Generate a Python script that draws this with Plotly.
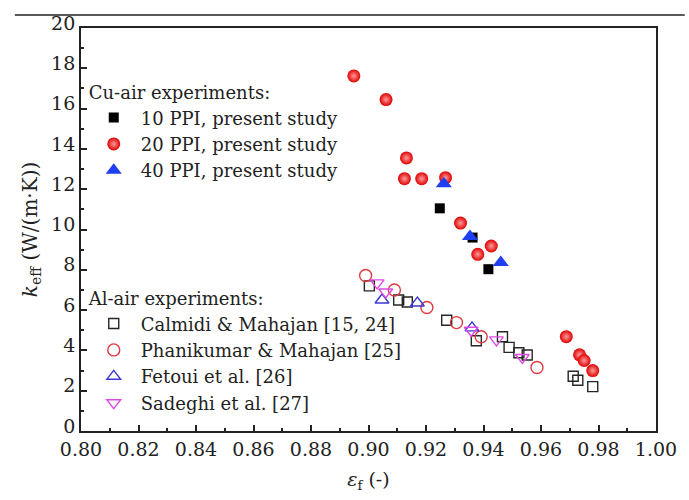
import plotly.graph_objects as go

# Cu-air measurements (present study)
cu10_eps = [0.9248, 0.9362, 0.9417]
cu10_k = [11.05, 9.60, 8.03]

cu20_eps = [0.8949, 0.9061, 0.9132, 0.9125, 0.9185, 0.9268, 0.9320, 0.9427,
            0.9380, 0.9688, 0.9734, 0.9750, 0.9780]
cu20_k = [17.62, 16.45, 13.55, 12.52, 12.52, 12.57, 10.32, 9.18,
          8.77, 4.68, 3.78, 3.50, 3.00]

cu40_eps = [0.9262, 0.9353, 0.9460]
cu40_k = [12.27, 9.65, 8.36]

# Al-air measurements from the literature
calmidi_eps = [0.9003, 0.9105, 0.9135, 0.9272, 0.9375, 0.9466, 0.9489, 0.9523,
               0.9552, 0.9712, 0.9728, 0.9780]
calmidi_k = [7.20, 6.50, 6.40, 5.50, 4.48, 4.68, 4.15, 3.88,
             3.77, 2.72, 2.52, 2.20]

phani_eps = [0.8990, 0.9090, 0.9203, 0.9306, 0.9392, 0.9586]
phani_k = [7.72, 7.00, 6.13, 5.38, 4.68, 3.15]

fetoui_eps = [0.9047, 0.9170, 0.9360]
fetoui_k = [6.50, 6.35, 5.12]

sadeghi_eps = [0.9030, 0.9060, 0.9357, 0.9445, 0.9535]
sadeghi_k = [7.35, 6.90, 5.00, 4.52, 3.65]

FONT = "DejaVu Serif, Liberation Serif, serif"
INK = "#222222"

fig = go.Figure()

# Al-air series (open symbols), second legend
al_series = [
    ("Calmidi & Mahajan [15, 24]", calmidi_eps, calmidi_k, "square-open", "#262626", 10),
    ("Phanikumar & Mahajan [25]", phani_eps, phani_k, "circle-open", "#e0393e", 12),
    ("Fetoui et al. [26]", fetoui_eps, fetoui_k, "triangle-up-open", "#3a3ad6", 12),
    ("Sadeghi et al. [27]", sadeghi_eps, sadeghi_k, "triangle-down-open", "#e048e6", 12),
]
for name, xs, ys, sym, col, size in al_series:
    fig.add_trace(go.Scatter(
        x=xs, y=ys, mode="markers", name=name, legend="legend2",
        marker=dict(symbol=sym, size=size, color=col, line=dict(width=1.4, color=col)),
    ))

# Cu-air series (filled symbols), first legend
fig.add_trace(go.Scatter(
    x=cu10_eps, y=cu10_k, mode="markers", name="10 PPI, present study", legend="legend",
    marker=dict(symbol="square", size=10, color="#000000"),
))
fig.add_trace(go.Scatter(
    x=cu20_eps, y=cu20_k, mode="markers", name="20 PPI, present study", legend="legend",
    marker=dict(symbol="circle", size=13, color="#e00000",
                gradient=dict(type="radial", color="#ff9a9a"),
                line=dict(width=0)),
))
fig.add_trace(go.Scatter(
    x=cu40_eps, y=cu40_k, mode="markers", name="40 PPI, present study", legend="legend",
    marker=dict(symbol="triangle-up", size=14, color="#1f3ff0", line=dict(width=0)),
))

axis_common = dict(
    showline=True, linecolor=INK, linewidth=1.8, mirror=True,
    ticks="inside", ticklen=6, tickwidth=1.5, tickcolor=INK,
    showgrid=False, zeroline=False,
    tickfont=dict(family=FONT, size=19, color=INK),
)

fig.update_xaxes(
    range=[0.80, 1.00], dtick=0.02, tick0=0.80, tickformat=".2f",
    minor=dict(ticks="inside", ticklen=3, tickwidth=1.5, tickcolor=INK, dtick=0.01),
    title=dict(text="<i>ε</i><sub>f</sub> (-)", font=dict(family=FONT, size=19, color=INK),
               standoff=14),
    **axis_common,
)
fig.update_yaxes(
    range=[0, 20], dtick=2, tick0=0,
    minor=dict(ticks="inside", ticklen=3, tickwidth=1.5, tickcolor=INK, dtick=1),
    ticklabelshift=-5,
    title=dict(text="<i>k</i><sub>eff</sub> (W/(m·K))", font=dict(family=FONT, size=20, color=INK),
               standoff=8),
    **axis_common,
)

legend_common = dict(
    bgcolor="rgba(0,0,0,0)", borderwidth=0,
    font=dict(family=FONT, size=18, color=INK),
    xanchor="left", yanchor="top", itemwidth=44,
)
fig.update_layout(
    width=689, height=500,
    font=dict(family=FONT, color=INK),
    margin=dict(l=81, r=25, t=22, b=69),
    paper_bgcolor="white", plot_bgcolor="white",
    legend=dict(x=0.01, y=0.881,
                title=dict(text="Cu-air experiments:", font=dict(family=FONT, size=18, color=INK)),
                **legend_common),
    legend2=dict(x=0.01, y=0.37,
                 title=dict(text="Al-air experiments:", font=dict(family=FONT, size=18, color=INK)),
                 **legend_common),
    shapes=[dict(type="line", xref="paper", yref="paper",
                 x0=-0.115, x1=1.05, y0=1.032, y1=1.032,
                 line=dict(color=INK, width=1.5))],
)

fig.write_html("out.html")
